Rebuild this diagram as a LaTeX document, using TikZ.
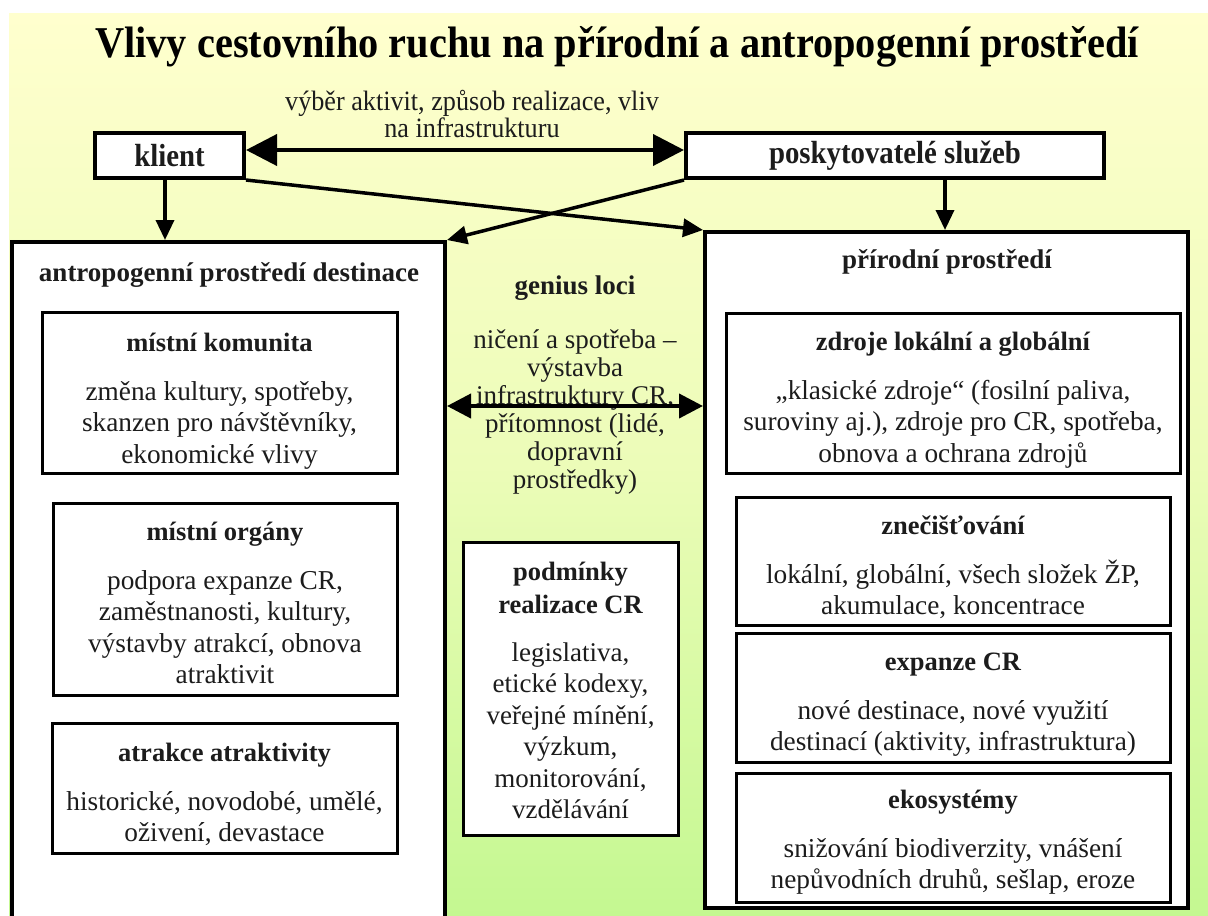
\documentclass[tikz,border=0pt]{standalone}
\usepackage{fontspec}
\setmainfont{Liberation Serif}
\usetikzlibrary{arrows.meta}
\definecolor{bgtop}{RGB}{255,255,206}
\definecolor{bgmid}{RGB}{236,252,184}
\definecolor{bgbot}{RGB}{196,248,145}
\definecolor{ink}{RGB}{28,28,28}
\newcommand{\hdline}[1]{{\fontsize{26.5}{31.5}\selectfont\bfseries #1}}
\newcommand{\firstrule}{\rule{0pt}{27pt}}
\begin{document}
\begin{tikzpicture}[x=1pt,y=-1pt,
  outerbox/.style={draw=black, line width=4pt, fill=white, inner sep=0pt},
  topbox/.style={draw=black, line width=4pt, fill=white, inner sep=0pt, font=\fontsize{32}{36}\selectfont\bfseries, text=ink},
  ibox/.style={draw=black, line width=3pt, fill=white, inner sep=0pt},
  btext/.style={anchor=north, align=center, inner sep=0pt, text=ink, font=\fontsize{27.3}{31.5}\selectfont},
  hd/.style={font=\fontsize{27}{30}\selectfont\bfseries, text=ink, inner sep=0pt},
  ctext/.style={font=\fontsize{27}{28}\selectfont, text=ink, align=center, inner sep=0pt},
  bigarr/.style={line width=4pt, {Triangle[length=31pt,width=31pt]}-{Triangle[length=31pt,width=31pt]}},
  midarr/.style={line width=4pt, {Triangle[length=24pt,width=24pt]}-{Triangle[length=24pt,width=24pt]}},
  downarr/.style={line width=3.5pt, -{Triangle[length=20pt,width=18pt]}}
]
\useasboundingbox (0,0) rectangle (1208,916);
\clip (0,0) rectangle (1208,916);
\shade[top color=bgtop, bottom color=bgbot, middle color=bgmid] (9,13) rectangle (1208,916);

% title
\node[font=\fontsize{44}{50}\selectfont\bfseries, inner sep=0pt, anchor=base] (title) at (617,57) {\scalebox{0.917}[1]{Vlivy cestovního ruchu na přírodní a antropogenní prostředí}};

% top boxes
\node[topbox, minimum width=149pt, minimum height=45pt] (klient) at (169.5,155.5) {\scalebox{0.9}[1]{klient}};
\node[topbox, minimum width=418pt, minimum height=45pt] (posk) at (895,155.5) {\scalebox{0.9}[1]{poskytovatelé služeb}};
\node[font=\fontsize{28}{25}\selectfont, text=ink, align=center, inner sep=0pt] (lab) at (472,114) {\scalebox{0.935}[1]{výběr aktivit, způsob realizace, vliv}\\\scalebox{0.935}[1]{na infrastrukturu}};

% outer boxes
\node[outerbox, minimum width=433pt, minimum height=700pt] (antro) at (228.5,592) {};
\node[outerbox, minimum width=483pt, minimum height=676pt] (prir) at (946.5,570) {};

\node[hd] (antroT) at (229,275) {antropogenní prostředí destinace};
\node[hd] (prirT) at (947,262) {přírodní prostředí};

% left inner boxes
\node[ibox, minimum width=355pt, minimum height=161pt] (mk) at (219.5,392.5) {};
\node[btext] (mkT) at ([yshift=-14pt]mk.north) {\firstrule\hdline{místní komunita}\\[17pt]změna kultury, spotřeby,\\skanzen pro návštěvníky,\\ekonomické vlivy};
\node[ibox, minimum width=344pt, minimum height=192pt] (mo) at (225,599) {};
\node[btext] (moT) at ([yshift=-12pt]mo.north) {\firstrule\hdline{místní orgány}\\[17pt]podpora expanze CR,\\zaměstnanosti, kultury,\\výstavby atrakcí, obnova\\atraktivit};
\node[ibox, minimum width=345pt, minimum height=130pt] (aa) at (224.5,788) {};
\node[btext] (aaT) at ([yshift=-13pt]aa.north) {\firstrule\hdline{atrakce atraktivity}\\[17pt]historické, novodobé, umělé,\\oživení, devastace};

% right inner boxes
\node[ibox, minimum width=454pt, minimum height=160pt] (zd) at (953,393) {};
\node[btext] (zdT) at ([yshift=-12pt]zd.north) {\firstrule\hdline{zdroje lokální a globální}\\[17pt]„klasické zdroje“ (fosilní paliva,\\suroviny aj.), zdroje pro CR, spotřeba,\\obnova a ochrana zdrojů};
\node[ibox, minimum width=434pt, minimum height=128pt] (zn) at (953,561) {};
\node[btext] (znT) at ([yshift=-12pt]zn.north) {\firstrule\hdline{znečišťování}\\[17pt]lokální, globální, všech složek ŽP,\\akumulace, koncentrace};
\node[ibox, minimum width=434pt, minimum height=129pt] (ex) at (953,697.5) {};
\node[btext] (exT) at ([yshift=-12pt]ex.north) {\firstrule\hdline{expanze CR}\\[17pt]nové destinace, nové využití\\destinací (aktivity, infrastruktura)};
\node[ibox, minimum width=434pt, minimum height=129pt] (ek) at (953,837.5) {};
\node[btext] (ekT) at ([yshift=-10pt]ek.north) {\firstrule\hdline{ekosystémy}\\[17pt]snižování biodiverzity, vnášení\\nepůvodních druhů, sešlap, eroze};

% centre column
\node[hd] (gl) at (575,288) {genius loci};
\node[ctext] (glt) at (575,412) {ničení a spotřeba –\\výstavba\\infrastruktury CR,\\přítomnost (lidé,\\dopravní\\prostředky)};
\node[ibox, minimum width=215pt, minimum height=293pt] (pod) at (570.5,688.5) {};
\node[btext, font=\fontsize{27}{31.5}\selectfont] (podT) at ([yshift=-13pt]pod.north) {\firstrule\hdline{podmínky}\\[1.5pt]\hdline{realizace CR}\\[16pt]legislativa,\\etické kodexy,\\veřejné mínění,\\výzkum,\\monitorování,\\vzdělávání};

% connectors
\coordinate (ta) at (0,150);
\draw[bigarr] (ta -| klient.east) -- (ta -| posk.west);
\coordinate (kd) at (165,0);
\draw[downarr] (kd |- klient.south) -- (kd |- antro.north);
\coordinate (pd) at (945,0);
\draw[downarr] (pd |- posk.south) -- (pd |- prir.north);
\draw[downarr] (klient.south east) -- (prir.north west);
\draw[downarr] (posk.south west) -- (antro.north east);
\coordinate (cm) at (575,406);
\draw[midarr] (cm -| antro.east) -- (cm -| prir.west);
\end{tikzpicture}
\end{document}
